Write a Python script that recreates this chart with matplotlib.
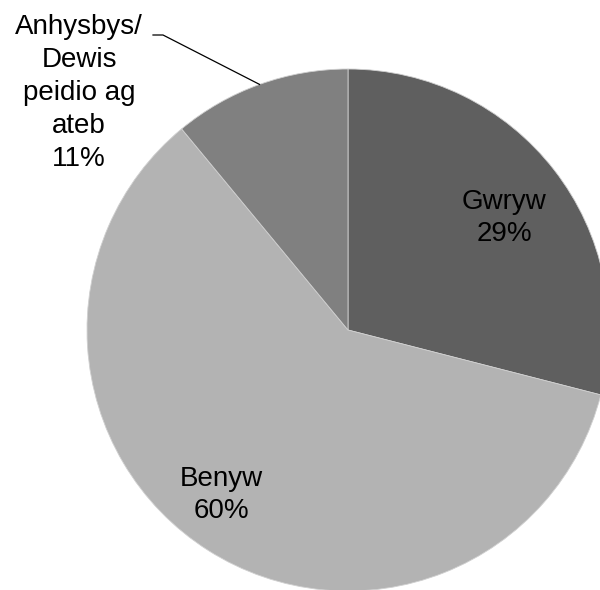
import numpy as np
import matplotlib
matplotlib.use("Agg")
import matplotlib.pyplot as plt

labels = ["Gwryw", "Benyw", "Anhysbys/\nDewis\npeidio ag\nateb"]
values = [29, 60, 11]
colors = ["#5f5f5f", "#b3b3b3", "#808080"]

plt.rcParams['font.family'] = ['Liberation Sans', 'DejaVu Sans']

W, H = 600, 590
fig = plt.figure(figsize=(W / 100, H / 100), dpi=100)
ax = fig.add_axes([0, 0, 1, 1])

cx, cy, r = 348, H - 330, 261
wedges, _ = ax.pie(values, colors=colors, startangle=90, counterclock=False,
                   center=(cx, cy), radius=r, frame=True,
                   wedgeprops=dict(linewidth=0.6, edgecolor="#d0d0d0"))
ax.set_xlim(0, W)
ax.set_ylim(0, H)
ax.set_aspect('equal')
ax.axis('off')

fs = 20
ls = 1.34
label_pos = [(504, H - 218), (221, H - 495)]
for (x, y), lab, v in zip(label_pos, labels[:2], values[:2]):
    ax.text(x, y, f"{lab}\n{v}%", ha='center', va='center', fontsize=fs,
            color='black', linespacing=ls)

# outside label with leader line
w = wedges[2]
ang = np.deg2rad((w.theta1 + w.theta2) / 2)
ex, ey = cx + r * np.cos(ang), cy + r * np.sin(ang)
ax.plot([ex, 163, 153], [ey, H - 35, H - 35], color='black', lw=0.9)
ax.text(79, H - 93, f"{labels[2]}\n{values[2]}%", ha='center', va='center',
        fontsize=fs, color='black', linespacing=ls)

fig.savefig("out.png", dpi=100, facecolor='white')
